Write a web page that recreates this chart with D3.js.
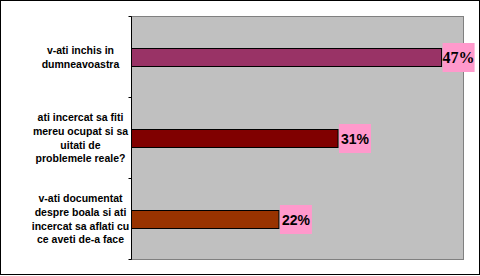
<!DOCTYPE html>
<html>
<head>
<meta charset="utf-8">
<script src="https://cdn.jsdelivr.net/npm/d3@7"></script>
<style>
  body { margin: 0; background: #fff; }
</style>
</head>
<body>
<div id="chart"></div>
<script>
// categories (top to bottom), each label split into its lines
var categories = ["c1", "c2", "c3"];
var categoryLines = [
  ["v-ati inchis in", "dumneavoastra"],
  ["ati incercat sa fiti", "mereu ocupat si sa", "uitati de", "problemele reale?"],
  ["v-ati documentat", "despre boala si ati", "incercat sa aflati cu", "ce aveti de-a face"]
];
var values = [0.467, 0.311, 0.222];
var barColors = ["#993366", "#800000", "#993300"];

var width = 480, height = 276;
var plot = { left: 131.5, top: 16.5, right: 463.5, bottom: 259.5 };

var svg = d3.select("#chart").append("svg")
    .attr("width", width)
    .attr("height", height);

// outer frame
svg.append("rect")
    .attr("x", 0.5).attr("y", 0.5)
    .attr("width", width - 1).attr("height", height - 2)
    .attr("fill", "#fff")
    .attr("stroke", "#000");

var x = d3.scaleLinear().domain([0, 0.5]).range([plot.left, plot.right]);
var y = d3.scaleBand().domain(categories).range([plot.top, plot.bottom]);

// plot area
svg.append("rect")
    .attr("x", plot.left).attr("y", plot.top)
    .attr("width", plot.right - plot.left).attr("height", plot.bottom - plot.top)
    .attr("fill", "#c0c0c0")
    .attr("stroke", "#808080");

// bars
var barH = 18;
svg.selectAll("rect.bar")
    .data(values).enter()
    .append("rect")
    .attr("class", "bar")
    .attr("x", x(0))
    .attr("y", function(d, i) { return Math.round(y(categories[i]) + y.bandwidth() / 2 - barH / 2) + 0.5; })
    .attr("width", function(d) { return x(d) - x(0); })
    .attr("height", barH)
    .attr("fill", function(d, i) { return barColors[i]; })
    .attr("stroke", "#000");

// category axis with ticks at band boundaries
var axisG = svg.append("g");
axisG.append("line")
    .attr("x1", plot.left).attr("x2", plot.left)
    .attr("y1", plot.top).attr("y2", plot.bottom)
    .attr("stroke", "#000");
var tickYs = categories.map(function(c) { return y(c); }).concat([plot.bottom]);
axisG.selectAll("line.tick")
    .data(tickYs).enter()
    .append("line")
    .attr("class", "tick")
    .attr("x1", plot.left - 3).attr("x2", plot.left)
    .attr("y1", function(d) { return d; }).attr("y2", function(d) { return d; })
    .attr("stroke", "#000");

// category labels
var lineH = 13.7;
svg.selectAll("text.cat")
    .data(categoryLines).enter()
    .append("text")
    .attr("class", "cat")
    .attr("text-anchor", "middle")
    .style("font-family", "'Liberation Sans', Arial, sans-serif")
    .style("font-weight", "bold")
    .style("font-size", "10.5px")
    .each(function(lines, i) {
      var cy = y(categories[i]) + y.bandwidth() / 2;
      var start = cy - (lines.length - 1) * lineH / 2;
      d3.select(this).selectAll("tspan")
        .data(lines).enter()
        .append("tspan")
        .attr("x", 80.5)
        .attr("y", function(l, j) { return start + j * lineH; })
        .attr("dy", "0.35em")
        .text(function(l) { return l; });
    });

// value labels in pink boxes
var fmt = d3.format(".0%");
var boxW = 32, boxH = 29;
var lab = svg.selectAll("g.lab")
    .data(values).enter()
    .append("g")
    .attr("class", "lab")
    .attr("transform", function(d, i) {
      return "translate(" + (x(d) + 1) + "," + (y(categories[i]) + y.bandwidth() / 2 - boxH / 2 + 0.5) + ")";
    });
lab.append("rect")
    .attr("width", boxW).attr("height", boxH)
    .attr("fill", "#ff99cc");
lab.append("text")
    .attr("x", boxW / 2)
    .attr("y", boxH / 2)
    .attr("dy", "0.36em")
    .attr("text-anchor", "middle")
    .style("font-family", function(d, i) { return i === 0 ? "'Liberation Serif', serif" : "'Liberation Sans', Arial, sans-serif"; })
    .style("font-weight", "bold")
    .style("font-size", function(d, i) { return i === 0 ? "16px" : "14px"; })
    .text(function(d) { return fmt(d); });
</script>
</body>
</html>
